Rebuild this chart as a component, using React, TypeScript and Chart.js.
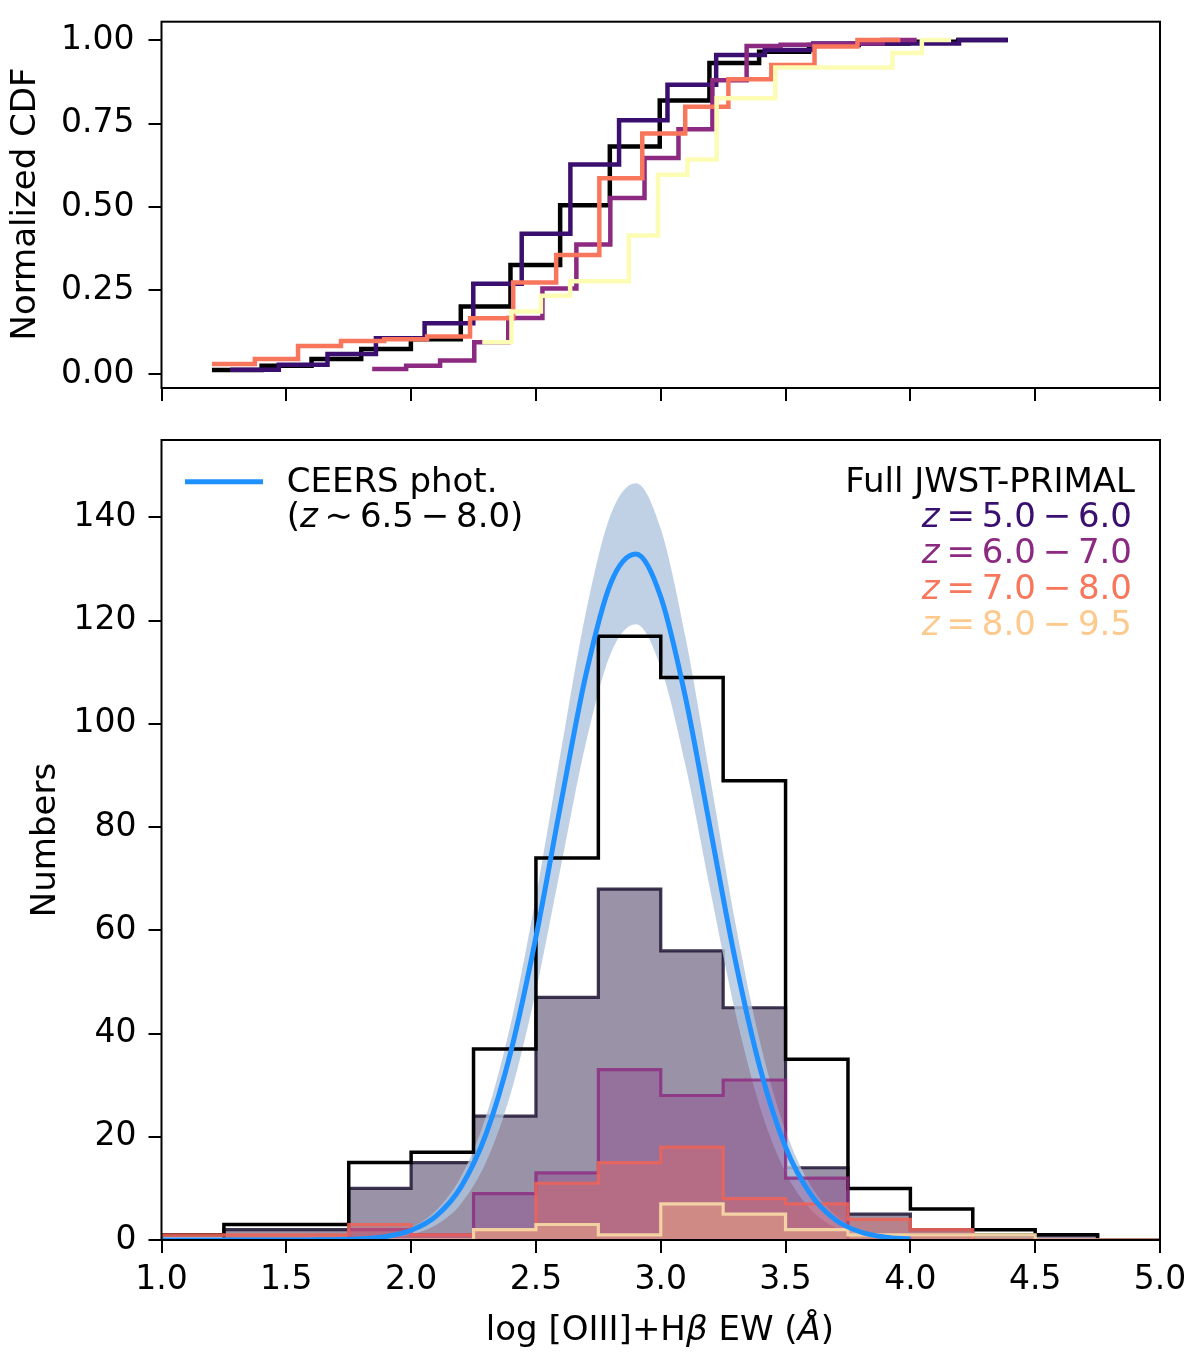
import { useEffect, useRef } from 'react'
import { Chart, registerables } from 'chart.js'

Chart.register(...registerables)

const FONT = '"DejaVu Sans", sans-serif'
const TXT = 34

// ---- top panel: normalized CDFs (step start positions and levels) ----
const CDF_FULL_X = [1.202, 1.401, 1.601, 1.8, 1.999, 2.199, 2.398, 2.597, 2.796, 2.996, 3.195, 3.394, 3.594, 3.793, 3.992, 4.192, 4.391]
const CDF_FULL_Y = [0.012, 0.025, 0.045, 0.075, 0.104, 0.202, 0.326, 0.505, 0.681, 0.819, 0.931, 0.965, 0.985, 0.99, 0.995, 1.0, 1.0]
const CDF_Z5_X = [1.275, 1.47, 1.665, 1.859, 2.054, 2.249, 2.443, 2.638, 2.833, 3.027, 3.222, 3.417, 3.611, 3.806, 4.001, 4.195, 4.39]
const CDF_Z5_Y = [0.013, 0.028, 0.06, 0.107, 0.152, 0.27, 0.42, 0.627, 0.76, 0.866, 0.955, 0.97, 0.99, 0.99, 0.99, 1.0, 1.0]
const CDF_Z6_X = [1.844, 1.98, 2.116, 2.253, 2.389, 2.526, 2.662, 2.798, 2.935, 3.071, 3.207, 3.344, 3.48, 3.616, 3.753, 3.889, 4.025]
const CDF_Z6_Y = [0.015, 0.025, 0.04, 0.095, 0.168, 0.256, 0.388, 0.527, 0.647, 0.733, 0.88, 0.982, 0.986, 0.988, 0.99, 1.0, 1.0]
const CDF_Z7_X = [1.202, 1.374, 1.547, 1.719, 1.892, 2.064, 2.236, 2.409, 2.581, 2.754, 2.926, 3.098, 3.271, 3.443, 3.616, 3.788, 3.96]
const CDF_Z7_Y = [0.03, 0.045, 0.084, 0.099, 0.104, 0.112, 0.167, 0.274, 0.356, 0.586, 0.72, 0.8, 0.883, 0.925, 0.981, 1.0, 1.0]
const CDF_Z8_X = [2.285, 2.402, 2.52, 2.637, 2.754, 2.872, 2.989, 3.107, 3.224, 3.341, 3.459, 3.576, 3.693, 3.811, 3.928, 4.046, 4.163]
const CDF_Z8_Y = [0.095, 0.187, 0.234, 0.278, 0.278, 0.415, 0.597, 0.642, 0.826, 0.826, 0.918, 0.918, 0.918, 0.918, 0.961, 1.0, 1.0]

// ---- bottom panel: histograms ----
const BIN_EDGES = [1.0, 1.25, 1.5, 1.75, 2.0, 2.25, 2.5, 2.75, 3.0, 3.25, 3.5, 3.75, 4.0, 4.25, 4.5, 4.75, 5.0]
const N_FULL = [1, 3, 3, 15, 17, 37, 74, 117, 109, 89, 35, 10, 6, 2, 1, 0]
const N_Z5 = [0, 2, 2, 10, 15, 24, 47, 68, 56, 45, 14, 5, 2, 1, 1, 0]
const N_Z6 = [0, 0, 0, 2, 1, 9, 13, 33, 28, 31, 12, 0, 1, 0, 0, 0]
const N_Z7 = [1, 1, 1, 3, 1, 2, 11, 15, 18, 8, 7, 4, 2, 0, 0, 0]
const N_Z8 = [0, 0, 0, 0, 0, 2, 3, 1, 7, 5, 2, 1, 1, 1, 0, 0]

// CEERS photometric distribution and its band
const CURVE_X = [1.0, 1.1, 1.2, 1.3, 1.4, 1.5, 1.6, 1.7, 1.8, 1.9, 2.0, 2.1, 2.2, 2.3, 2.4, 2.5, 2.6, 2.7, 2.8, 2.9, 3.0, 3.1, 3.2, 3.3, 3.4, 3.5, 3.6, 3.7, 3.8, 3.9, 4.0]
const CURVE_MID = [0, 0, 0, 0, 0, 0, 0.02, 0.07, 0.22, 0.69, 1.88, 4.64, 10.3, 20.5, 36.6, 58.7, 84.6, 109.5, 127.3, 132.9, 124.6, 104.9, 79.3, 53.9, 32.9, 18.0, 8.9, 3.9, 1.55, 0.55, 0.18]
const CURVE_HI = [0, 0, 0, 0, 0, 0, 0.03, 0.09, 0.3, 0.89, 2.38, 5.71, 12.3, 24.0, 42.1, 66.5, 94.7, 121.6, 140.6, 146.6, 137.8, 116.6, 89.0, 61.2, 37.9, 21.2, 10.6, 4.83, 1.97, 0.73, 0.24]
const CURVE_LO = [0, 0, 0, 0, 0, 0, 0.01, 0.03, 0.1, 0.35, 1.07, 2.92, 7.03, 15.1, 28.6, 48.3, 72.4, 96.3, 113.7, 119.3, 111.0, 91.8, 67.4, 43.9, 25.4, 13.1, 5.96, 2.41, 0.87, 0.28, 0.08]

const X_TICKS = [1.0, 1.5, 2.0, 2.5, 3.0, 3.5, 4.0, 4.5, 5.0]
const CDF_TICKS = [0, 0.25, 0.5, 0.75, 1.0]
const N_TICKS = [0, 20, 40, 60, 80, 100, 120, 140]

const TS = '\u2009'
const Z_LABELS = ['5.0', '6.0', '7.0', '8.0']
const Z_UPPER = ['6.0', '7.0', '8.0', '9.5']
const Z_TEXT_COLORS = ['#3b0f70', '#8c2981', '#f8765c', '#fec98d']

const histPoints = (counts: number[]) => {
  const pts = [{ x: BIN_EDGES[0], y: 0 }]
  counts.forEach((c, i) => pts.push({ x: BIN_EDGES[i], y: c }))
  pts.push({ x: BIN_EDGES[BIN_EDGES.length - 1], y: 0 })
  return pts
}
const xyPoints = (xs: number[], ys: number[]) => xs.map((x, i) => ({ x, y: ys[i] }))

const frame = {
  id: 'frame',
  afterDatasetsDraw(chart: any) {
    const { ctx, chartArea: a } = chart
    ctx.save()
    ctx.strokeStyle = '#000'
    ctx.lineWidth = 2
    ctx.strokeRect(a.left, a.top, a.right - a.left, a.bottom - a.top)
    ctx.restore()
  },
}

const drawPieces = (ctx: CanvasRenderingContext2D, pieces: [string, boolean][], x: number, y: number, size: number) => {
  let cx = x
  for (const [t, it] of pieces) {
    ctx.font = `${it ? 'italic ' : ''}${size}px ${FONT}`
    ctx.fillText(t, cx, y)
    cx += ctx.measureText(t).width
  }
}
const piecesWidth = (ctx: CanvasRenderingContext2D, pieces: [string, boolean][], size: number) =>
  pieces.reduce((w, [t, it]) => {
    ctx.font = `${it ? 'italic ' : ''}${size}px ${FONT}`
    return w + ctx.measureText(t).width
  }, 0)

const vLabel = (ctx: CanvasRenderingContext2D, text: string, x: number, y: number) => {
  ctx.save()
  ctx.translate(x, y)
  ctx.rotate(-Math.PI / 2)
  ctx.font = `${TXT}px ${FONT}`
  ctx.textAlign = 'center'
  ctx.textBaseline = 'alphabetic'
  ctx.fillStyle = '#000'
  ctx.fillText(text, 0, 0)
  ctx.restore()
}

const topText = {
  id: 'topText',
  afterDraw(chart: any) {
    vLabel(chart.ctx, 'Normalized CDF', 35, 204)
  },
}

const bottomText = {
  id: 'bottomText',
  afterDraw(chart: any) {
    const ctx: CanvasRenderingContext2D = chart.ctx
    ctx.save()
    vLabel(ctx, 'Numbers', 55, 410)
    ctx.fillStyle = '#000'
    ctx.textAlign = 'left'
    ctx.textBaseline = 'alphabetic'
    const title: [string, boolean][] = [['log [OIII]+H', false], ['\u03b2', true], [' EW (', false], ['\u00c5', true], [')', false]]
    const tw = piecesWidth(ctx, title, TXT)
    drawPieces(ctx, title, 660 - tw / 2, 910, TXT)

    // legend left
    ctx.strokeStyle = '#1e90ff'
    ctx.lineWidth = 5
    ctx.beginPath()
    ctx.moveTo(185, 51.7)
    ctx.lineTo(263, 51.7)
    ctx.stroke()
    ctx.fillStyle = '#000'
    drawPieces(ctx, [['CEERS phot.', false]], 286.7, 61.7, TXT)
    drawPieces(
      ctx,
      [['(', false], ['z', true], [TS + '\u223c' + TS, false], ['6.5' + TS + '\u2212' + TS + '8.0)', false]],
      286.7,
      96.7,
      TXT,
    )

    // legend right
    const w0 = piecesWidth(ctx, [['Full JWST-PRIMAL', false]], TXT)
    drawPieces(ctx, [['Full JWST-PRIMAL', false]], 1135 - w0, 61.7, TXT)
    Z_LABELS.forEach((lo, i) => {
      ctx.fillStyle = Z_TEXT_COLORS[i]
      const pieces: [string, boolean][] = [['z', true], [TS + '=' + TS + lo + TS + '\u2212' + TS + Z_UPPER[i], false]]
      const w = piecesWidth(ctx, pieces, TXT)
      drawPieces(ctx, pieces, 1132 - w, 96.7 + i * 36.2, TXT)
    })
    ctx.restore()
  },
}

const tickFont = { family: FONT, size: 33 }
const gridTicks = { display: true, drawOnChartArea: false, drawTicks: true, tickLength: 13, color: '#000', lineWidth: 2 }
const noPad = (s: any) => {
  s.paddingTop = 0
  s.paddingBottom = 0
  s.paddingLeft = 0
  s.paddingRight = 0
}

export default function App() {
  const topRef = useRef<HTMLCanvasElement>(null)
  const botRef = useRef<HTMLCanvasElement>(null)

  useEffect(() => {
    if (!topRef.current || !botRef.current) return
    const cdfLine = (label: string, xs: number[], ys: number[], color: string, order: number) => ({
      label,
      data: xyPoints(xs, ys),
      borderColor: color,
      borderWidth: 4.5,
      stepped: 'before' as const,
      pointRadius: 0,
      fill: false,
      order,
      borderJoinStyle: 'miter' as const,
    })
    const top = new Chart(topRef.current, {
      type: 'line',
      data: {
        datasets: [
          cdfLine('z8', CDF_Z8_X, CDF_Z8_Y, '#fcfcb4', 0),
          cdfLine('z7', CDF_Z7_X, CDF_Z7_Y, '#f8765c', 1),
          cdfLine('z6', CDF_Z6_X, CDF_Z6_Y, '#8c2981', 2),
          cdfLine('z5', CDF_Z5_X, CDF_Z5_Y, '#3b0f70', 3),
          cdfLine('full', CDF_FULL_X, CDF_FULL_Y, '#000000', 4),
        ],
      },
      options: {
        responsive: false,
        animation: false,
        devicePixelRatio: 1,
        layout: { padding: { left: 0, right: 40, top: 21.7, bottom: 0 } },
        plugins: { legend: { display: false }, tooltip: { enabled: false } },
        scales: {
          x: {
            type: 'linear',
            min: 1,
            max: 5,
            afterBuildTicks: (s: any) => { s.ticks = X_TICKS.map((v) => ({ value: v })) },
            afterFit: (s: any) => { s.height = 42; noPad(s) },
            ticks: { display: false },
            grid: gridTicks,
            border: { display: false },
          },
          y: {
            min: -0.042,
            max: 1.055,
            afterBuildTicks: (s: any) => { s.ticks = CDF_TICKS.map((v) => ({ value: v })) },
            afterFit: (s: any) => { s.width = 161.5; noPad(s) },
            ticks: { font: tickFont, color: '#000', padding: 14, callback: (v: any) => Number(v).toFixed(2) },
            grid: gridTicks,
            border: { display: false },
          },
        },
      },
      plugins: [frame, topText],
    })

    const hist = (label: string, counts: number[], edge: string, fillColor: string | false, order: number, width = 3.2) => ({
      label,
      data: histPoints(counts),
      borderColor: edge,
      backgroundColor: fillColor || 'transparent',
      borderWidth: width,
      stepped: 'before' as const,
      pointRadius: 0,
      fill: fillColor ? 'origin' : false,
      order,
      borderJoinStyle: 'miter' as const,
    })
    // drawing order (high first): z5 fill, band, full outline, z6, z7, z8, curve
    const bot = new Chart(botRef.current, {
      type: 'line',
      data: {
        datasets: [
          {
            label: 'CEERS phot.',
            data: xyPoints(CURVE_X, CURVE_MID),
            borderColor: '#1e90ff',
            borderWidth: 5,
            cubicInterpolationMode: 'monotone',
            pointRadius: 0,
            fill: false,
            order: 0,
          },
          {
            label: 'band hi',
            data: xyPoints(CURVE_X, CURVE_HI),
            borderWidth: 0,
            borderColor: 'transparent',
            backgroundColor: 'rgba(176,196,222,0.8)',
            cubicInterpolationMode: 'monotone',
            pointRadius: 0,
            fill: '+1',
            order: 5,
          },
          {
            label: 'band lo',
            data: xyPoints(CURVE_X, CURVE_LO),
            borderWidth: 0,
            borderColor: 'transparent',
            cubicInterpolationMode: 'monotone',
            pointRadius: 0,
            fill: false,
            order: 5,
          },
          hist('Full JWST-PRIMAL', N_FULL, '#000000', false, 4, 3.5),
          hist('z=8.0-9.5', N_Z8, 'rgba(245,215,165,0.95)', 'rgba(254,194,135,0.35)', 1),
          hist('z=7.0-8.0', N_Z7, 'rgba(238,100,88,0.85)', 'rgba(241,96,93,0.35)', 2),
          hist('z=6.0-7.0', N_Z6, 'rgba(140,41,129,0.8)', 'rgba(140,41,129,0.3)', 3),
          hist('z=5.0-6.0', N_Z5, 'rgba(40,30,60,0.9)', 'rgba(53,39,79,0.5)', 6),
        ],
      },
      options: {
        responsive: false,
        animation: false,
        devicePixelRatio: 1,
        layout: { padding: { left: 0, right: 40, top: 10, bottom: 0 } },
        plugins: { legend: { display: false }, tooltip: { enabled: false } },
        scales: {
          x: {
            type: 'linear',
            min: 1,
            max: 5,
            afterBuildTicks: (s: any) => { s.ticks = X_TICKS.map((v) => ({ value: v })) },
            afterFit: (s: any) => { s.height = 127; noPad(s) },
            ticks: { font: tickFont, color: '#000', padding: 8, maxRotation: 0, callback: (v: any) => Number(v).toFixed(1) },
            grid: gridTicks,
            border: { display: false },
          },
          y: {
            min: 0,
            max: 155,
            afterBuildTicks: (s: any) => { s.ticks = N_TICKS.map((v) => ({ value: v })) },
            afterFit: (s: any) => { s.width = 161.5; noPad(s) },
            ticks: { font: tickFont, color: '#000', padding: 12, callback: (v: any) => String(v) },
            grid: gridTicks,
            border: { display: false },
          },
        },
      },
      plugins: [frame, bottomText],
    })

    return () => {
      top.destroy()
      bot.destroy()
    }
  }, [])

  return (
    <div style={{ position: 'absolute', left: 0, top: 0, width: 1200, height: 1367, background: '#fff' }}>
      <canvas ref={topRef} width={1200} height={430} style={{ display: 'block' }} />
      <canvas ref={botRef} width={1200} height={937} style={{ display: 'block' }} />
    </div>
  )
}
